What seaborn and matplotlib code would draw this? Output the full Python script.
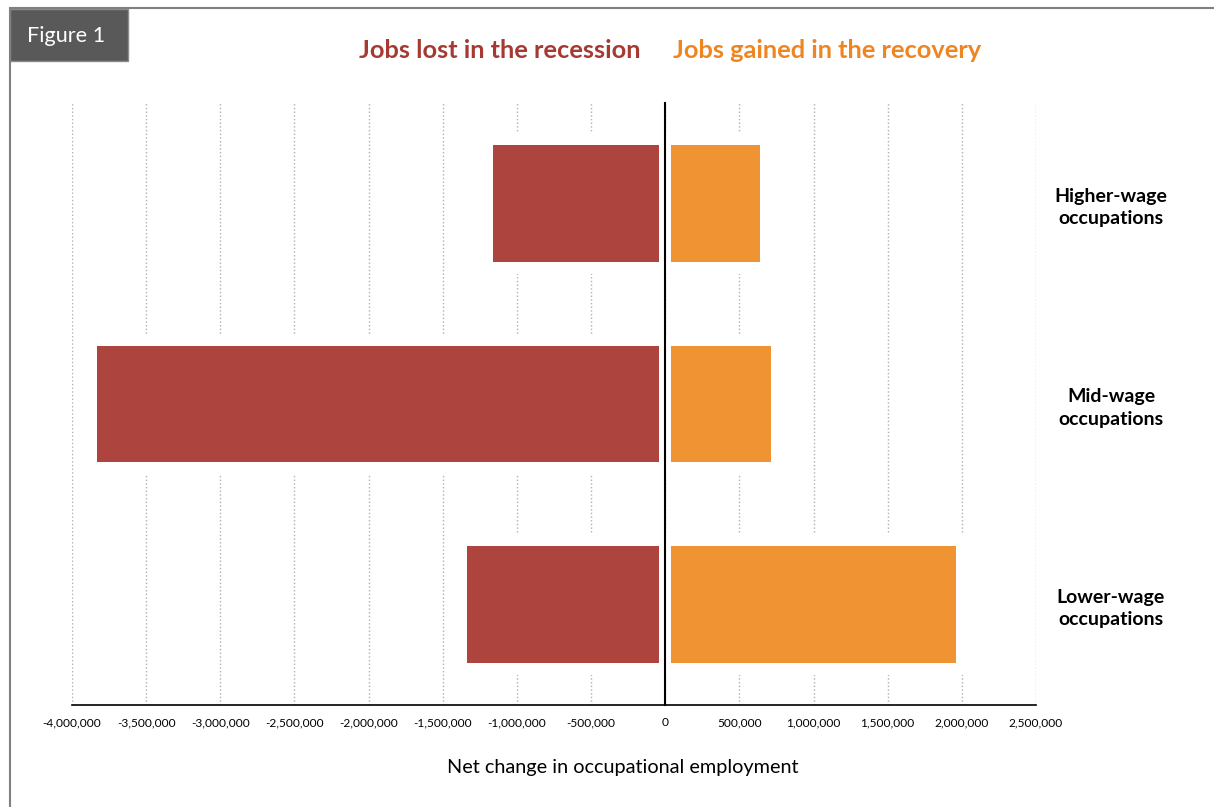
import matplotlib
matplotlib.use('Agg')
import matplotlib.pyplot as plt
import matplotlib.patches as mpatches
import matplotlib.transforms as mtransforms
import seaborn as sns
from matplotlib.ticker import FuncFormatter

# -----------------------------
# Dati
# -----------------------------
categories = ['Higher-wage\noccupations', 'Mid-wage\noccupations', 'Lower-wage\noccupations']
jobs_lost = [-1200000, -3875000, -1380000]
jobs_gained = [680000, 752000, 2000000]
x_ticks = [-4000000, -3500000, -3000000, -2500000, -2000000, -1500000,
           -1000000, -500000, 0, 500000, 1000000, 1500000, 2000000, 2500000]

red = '#AD453E'
orange = '#F09433'

sns.set_style('white')
plt.rcParams['font.family'] = ['Lato', 'DejaVu Sans']
plt.rcParams['text.color'] = 'black'
plt.rcParams['xtick.color'] = 'black'
plt.rcParams['axes.labelcolor'] = 'black'

fig = plt.figure(figsize=(12.14, 8.07), dpi=100)
W, H = 1214, 807
ax = fig.add_axes([72 / W, 1 - 705 / H, 964 / W, 602 / H])

# -----------------------------
# Barre
# -----------------------------
edge_lw = 12 * 72 / 100  # bordo bianco ~12 px
sns.barplot(x=jobs_lost, y=categories, orient='h', color=red, saturation=1, width=0.64,
            edgecolor='white', linewidth=edge_lw, ax=ax, zorder=3)
sns.barplot(x=jobs_gained, y=categories, orient='h', color=orange, saturation=1, width=0.64,
            edgecolor='white', linewidth=edge_lw, ax=ax, zorder=3)

ax.set_xlim(-4000000, 2500000)
ax.set_ylim(2.5, -0.5)
ax.set_xticks(x_ticks)
ax.xaxis.set_major_formatter(FuncFormatter(lambda v, p: f'{int(v):,}'))
ax.tick_params(axis='x', labelsize=8.6, length=3, color='black', pad=6)

# asse verticale a zero con tacche ai confini delle categorie
ax.set_yticks([-0.5, 0.5, 1.5])
ax.set_yticklabels([])
ax.set_ylabel('')
ax.spines['left'].set_position(('data', 0))
ax.spines['left'].set_zorder(5)
ax.spines['left'].set_linewidth(1.5)
ax.spines['left'].set_color('black')
ax.spines['bottom'].set_color('black')
ax.tick_params(axis='y', length=7, width=1.5, color='black', direction='out')
ax.spines['right'].set_visible(False)
ax.spines['top'].set_visible(False)
ax.spines['bottom'].set_linewidth(1.2)

ax.grid(axis='x', linestyle=':', color='#B0B0B0', linewidth=1, zorder=0)
ax.set_axisbelow(True)

ax.set_xlabel('')
fig.text(623 / W, 1 - 768 / H, 'Net change in occupational employment',
         fontsize=14.3, ha='center', va='center')

# etichette categorie a destra
trans = mtransforms.blended_transform_factory(fig.transFigure, ax.transData)
for i, c in enumerate(categories):
    ax.text(1111 / W, i + 0.02, c, transform=trans, ha='center', va='center',
            fontsize=14, fontweight='bold', linespacing=1.4)

# titoli serie
fig.text(500 / W, 1 - 50 / H, 'Jobs lost in the recession', color='#A63A32',
         fontsize=18.3, fontweight='bold', ha='center', va='center')
fig.text(827 / W, 1 - 50 / H, 'Jobs gained in the recovery', color='#EE8520',
         fontsize=18.3, fontweight='bold', ha='center', va='center')

# cornice e box "Figure 1"
fig.add_artist(plt.Line2D([10 / W, 1], [1 - 8 / H, 1 - 8 / H], color='#7F7F7F', lw=1.5))
fig.add_artist(plt.Line2D([10 / W, 10 / W], [0, 1 - 8 / H], color='#7F7F7F', lw=1.5))
fig.add_artist(mpatches.Rectangle((10 / W, 1 - 61 / H), 118 / W, 52 / H,
                                  transform=fig.transFigure, facecolor='#595959',
                                  edgecolor='#8C8C8C', lw=1))
fig.text(66 / W, 1 - 36 / H, 'Figure 1', color='white', fontsize=15.6,
         ha='center', va='center')

fig.savefig('out.png', dpi=100)
